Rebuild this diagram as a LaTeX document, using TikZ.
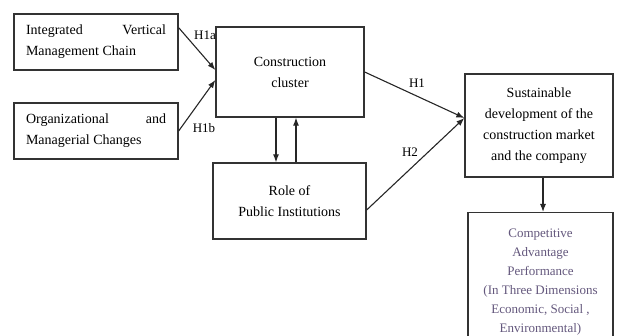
\documentclass[tikz,border=0pt]{standalone}
\usepackage{fontspec}
\setmainfont{Liberation Serif}
\usetikzlibrary{positioning,calc,arrows.meta}

\definecolor{outcometext}{RGB}{100,88,125}
\tikzset{
  block/.style={draw=black!80, line width=1.3pt, fill=white, align=center,
    font=\fontsize{14}{21}\selectfont},
  leftblock/.style={block, minimum width=164, minimum height=56, text width=140, align=justify},
  hyp/.style={font=\fontsize{13}{15}\selectfont, inner sep=1pt},
  link/.style={->, line width=1.1pt, draw=black!85},
}

\begin{document}
\begin{tikzpicture}[x=1pt, y=-1pt, >={Latex[length=8pt,width=6pt]}]
    \useasboundingbox (0,0) rectangle (617,336);

    % left-hand inputs
    \node[leftblock] (chain) at (96,42) {Integrated Vertical\linebreak Management Chain};
    \node[leftblock] (change) at (96,131) {Organizational and\linebreak Managerial Changes};

    \node[block, minimum width=148, minimum height=90] (cluster) at (290,72) {Construction\\cluster};
    \node[block, minimum width=153, minimum height=76] (role) at (289.5,201) {Role of\\Public Institutions};
    \node[block, minimum width=148, minimum height=103] (sust) at (539,125.5)
        {Sustainable\\development of the\\construction market\\and the company};
    \node[block, anchor=north, minimum width=145, minimum height=138, text=outcometext,
        font=\fontsize{13}{19}\selectfont] (comp) at (540.5,212)
        {Competitive\\Advantage\\Performance\\(In Three Dimensions\\Economic, Social ,\\Environmental)};

    % hypotheses
    \draw[link] ($(chain.north east)!0.25!(chain.south east)$) -- ([yshift=2pt]cluster.west);
    \draw[link] (change.east) -- ([yshift=-8pt]cluster.west);
    \draw[link] (cluster.east) -- ([yshift=7.5pt]sust.west);
    \draw[link] ([yshift=-9pt]role.east) -- ([yshift=7.5pt]sust.west);

    \node[hyp] (h1a) at (205,35) {H1a};
    \node[hyp] (h1b) at (204,128) {H1b};
    \node[hyp] (h1) at (417,83) {H1};
    \node[hyp] (h2) at (410,152) {H2};

    % cluster <-> institutions
    \draw[link] ([xshift=-14pt]cluster.south) -- ([xshift=-14pt]cluster.south |- role.north);
    \draw[link] ([xshift=6pt]cluster.south |- role.north) -- ([xshift=6pt]cluster.south);

    \draw[link] ([xshift=4pt]sust.south) -- ([xshift=4pt]sust.south |- comp.north);
\end{tikzpicture}
\end{document}
